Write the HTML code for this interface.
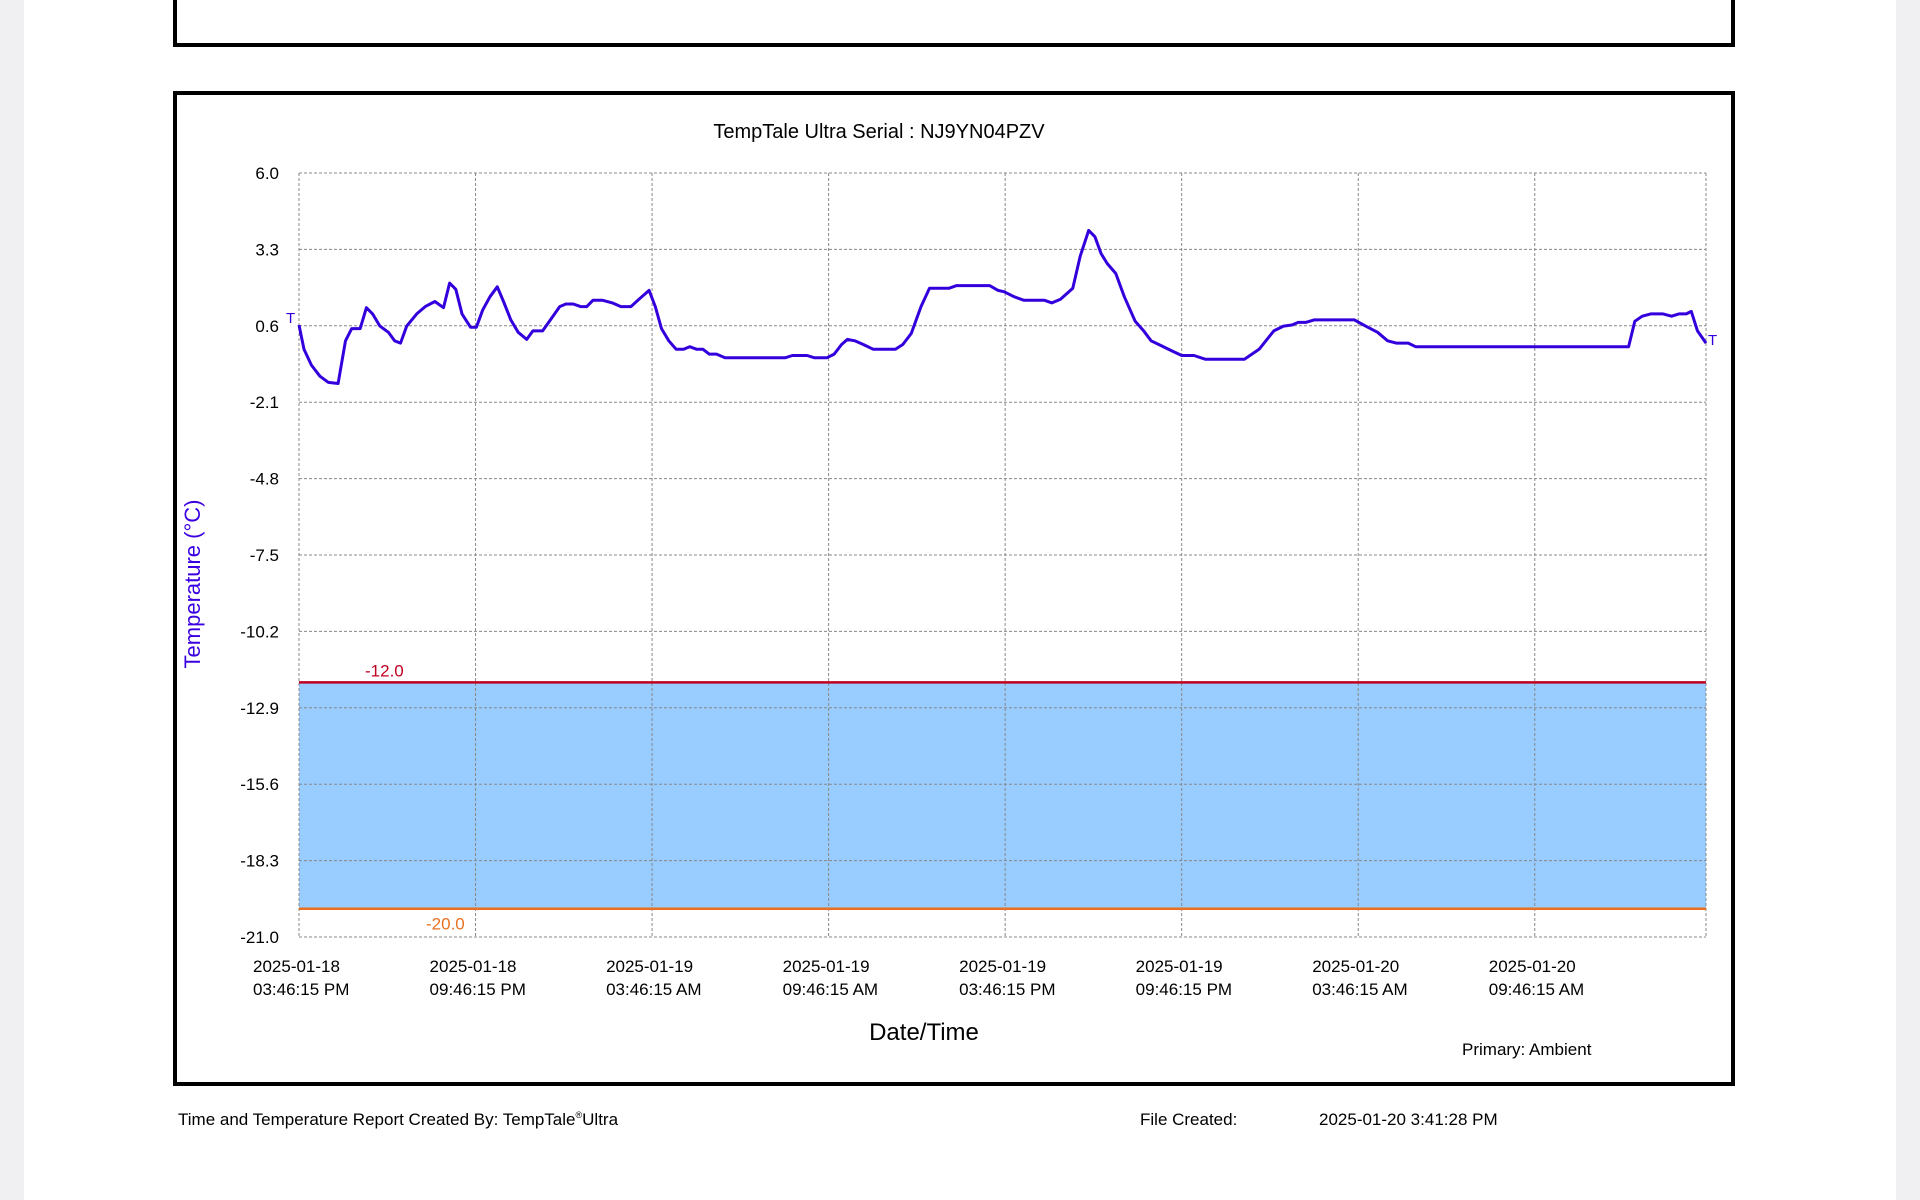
<!DOCTYPE html>
<html><head><meta charset="utf-8">
<style>
html,body{margin:0;padding:0;background:#f0f0f2;}
#page{position:absolute;left:24px;top:0;width:1872px;height:1200px;background:#fff;}
svg{position:absolute;left:0;top:0;}
text{font-family:"Liberation Sans",Arial,sans-serif;}
</style></head>
<body>
<div id="page"></div>
<svg id="chart" width="1920" height="1200">
  <rect x="175" y="-10" width="1558" height="55" fill="none" stroke="#000" stroke-width="4"/>
  <rect x="175" y="93" width="1558" height="991" fill="#fff" stroke="#000" stroke-width="4"/>
  <text x="879" y="138" font-size="20" text-anchor="middle">TempTale Ultra  Serial : NJ9YN04PZV</text>
  <g id="band"></g>
  <g id="grid"></g>
  <g id="yticks"></g>
  <g id="xticks"></g>
  <g id="series"></g>
  <text transform="translate(200,584) rotate(-90)" font-size="22" fill="#3a00e0" text-anchor="middle">Temperature      (°C)</text>
  <text x="924" y="1040" font-size="24" text-anchor="middle">Date/Time</text>
  <text x="1462" y="1055" font-size="17">Primary: Ambient</text>
  <text x="178" y="1125" font-size="17">Time and Temperature Report Created By:  TempTale<tspan font-size="9" dy="-7">®</tspan><tspan dy="7">Ultra</tspan></text>
  <text x="1140" y="1125" font-size="17">File Created:</text>
  <text x="1319" y="1125" font-size="17">2025-01-20  3:41:28 PM</text>
</svg>
<script>
const yTickLabels = ["6.0","3.3","0.6","-2.1","-4.8","-7.5","-10.2","-12.9","-15.6","-18.3","-21.0"];
const yTickValues = [6.0,3.3,0.6,-2.1,-4.8,-7.5,-10.2,-12.9,-15.6,-18.3,-21.0];
const xTickHours = [0,6,12,18,24,30,36,42];
const xTickDates = ["2025-01-18","2025-01-18","2025-01-19","2025-01-19","2025-01-19","2025-01-19","2025-01-20","2025-01-20"];
const xTickTimes = ["03:46:15 PM","09:46:15 PM","03:46:15 AM","09:46:15 AM","03:46:15 PM","09:46:15 PM","03:46:15 AM","09:46:15 AM"];
const upperLimit = -12.0;
const lowerLimit = -20.0;
const hours = [0,0.17,0.42,0.71,1.0,1.33,1.58,1.79,2.08,2.29,2.5,2.75,3.04,3.25,3.45,3.66,4.0,4.29,4.62,4.91,5.12,5.33,5.54,5.83,6.03,6.24,6.49,6.74,6.95,7.2,7.45,7.74,7.95,8.28,8.57,8.86,9.07,9.32,9.57,9.78,9.99,10.32,10.65,10.94,11.28,11.61,11.9,12.11,12.32,12.57,12.82,13.07,13.28,13.52,13.73,13.94,14.19,14.48,16.52,16.77,17.27,17.52,17.94,18.19,18.44,18.64,18.89,19.18,19.52,20.27,20.52,20.81,21.14,21.43,22.1,22.35,23.47,23.76,23.97,24.3,24.64,25.34,25.59,25.88,26.3,26.55,26.84,27.05,27.26,27.47,27.76,28.05,28.42,28.71,28.96,29.3,29.63,30.0,30.42,30.8,32.13,32.63,33.13,33.46,33.75,33.96,34.21,34.5,35.87,36.25,36.66,37.0,37.29,37.7,37.95,45.19,45.4,45.65,45.94,46.36,46.65,46.9,47.15,47.32,47.53,47.82];
const temps = [0.63,-0.23,-0.79,-1.18,-1.40,-1.44,0.07,0.5,0.5,1.24,1.02,0.59,0.37,0.07,-0.01,0.59,1.02,1.28,1.46,1.24,2.11,1.89,1.02,0.55,0.55,1.15,1.63,1.98,1.46,0.81,0.37,0.12,0.42,0.42,0.85,1.28,1.37,1.37,1.28,1.28,1.50,1.50,1.41,1.28,1.28,1.59,1.85,1.28,0.5,0.07,-0.23,-0.23,-0.14,-0.23,-0.23,-0.40,-0.40,-0.53,-0.53,-0.45,-0.45,-0.53,-0.53,-0.40,-0.06,0.12,0.07,-0.06,-0.23,-0.23,-0.06,0.33,1.28,1.93,1.93,2.02,2.02,1.85,1.80,1.63,1.50,1.50,1.41,1.54,1.93,3.06,3.97,3.75,3.15,2.80,2.45,1.63,0.76,0.42,0.07,-0.10,-0.27,-0.45,-0.45,-0.58,-0.58,-0.23,0.42,0.59,0.63,0.72,0.72,0.81,0.81,0.59,0.37,0.07,-0.01,-0.01,-0.14,-0.14,0.76,0.94,1.02,1.02,0.94,1.02,1.02,1.11,0.42,-0.01];

const NS="http://www.w3.org/2000/svg";
const X0=299,X1=1706,Y0=173,Y1=937,XMAX=47.82,YMIN=-21,YMAX=6;
function xs(h){return X0+(h/XMAX)*(X1-X0);}
function ys(v){return Y0+(YMAX-v)/(YMAX-YMIN)*(Y1-Y0);}
function mk(tag,attrs,parent,txt){const e=document.createElementNS(NS,tag);for(const k in attrs)e.setAttribute(k,attrs[k]);if(txt!==undefined)e.textContent=txt;parent.appendChild(e);return e;}

const band=document.getElementById('band');
let r=mk('rect',{x:X0,y:ys(upperLimit),width:X1-X0,height:ys(lowerLimit)-ys(upperLimit),fill:'#99ccff'},band);



const grid=document.getElementById('grid');
const yt=document.getElementById('yticks');
yTickValues.forEach((v,i)=>{
  let l=mk('line',{x1:X0,x2:X1,y1:ys(v),y2:ys(v),stroke:'#888','stroke-width':1,'stroke-dasharray':'3,2'},grid);
  
  
  let t=mk('text',{x:279,y:ys(v)+6,'font-size':17,'text-anchor':'end'},yt,yTickLabels[i]);
  
  
});
const xt=document.getElementById('xticks');
xTickHours.concat([XMAX]).forEach(h=>{
  let l=mk('line',{x1:xs(h),x2:xs(h),y1:Y0,y2:Y1,stroke:'#888','stroke-width':1,'stroke-dasharray':'3,2'},grid);
  
  
});
xTickHours.forEach((h,i)=>{
  let t=mk('text',{x:xs(h)-46,y:972,'font-size':17},xt,xTickDates[i]);
  
  
  let t2=mk('text',{x:xs(h)-46,y:995,'font-size':17},xt,xTickTimes[i]);
  
  
});

const s=document.getElementById('series');
let ul=mk('line',{x1:X0,x2:X1,y1:ys(upperLimit),y2:ys(upperLimit),stroke:'#c00020','stroke-width':2.5},s);


let ulb=mk('text',{x:365,y:ys(upperLimit)-6,'font-size':17,fill:'#c00020'},s,upperLimit.toFixed(1));


let ll=mk('line',{x1:X0,x2:X1,y1:ys(lowerLimit),y2:ys(lowerLimit),stroke:'#e87020','stroke-width':2.5},s);


let llb=mk('text',{x:426,y:ys(lowerLimit)+21,'font-size':17,fill:'#e87020'},s,lowerLimit.toFixed(1));



let d=hours.map((h,i)=>(i?'L':'M')+xs(h).toFixed(1)+','+ys(temps[i]).toFixed(1)).join(' ');
let p=mk('path',{d:d,fill:'none',stroke:'#3300dd','stroke-width':3,'stroke-linejoin':'round'},s);


let m1=mk('text',{x:xs(hours[0])-13,y:ys(temps[0])-2,'font-size':15,fill:'#3300dd'},s,'T');


let n=hours.length-1;
let m2=mk('text',{x:xs(hours[n])+2,y:ys(temps[n])+2,'font-size':15,fill:'#3300dd'},s,'T');


</script>
</body></html>
